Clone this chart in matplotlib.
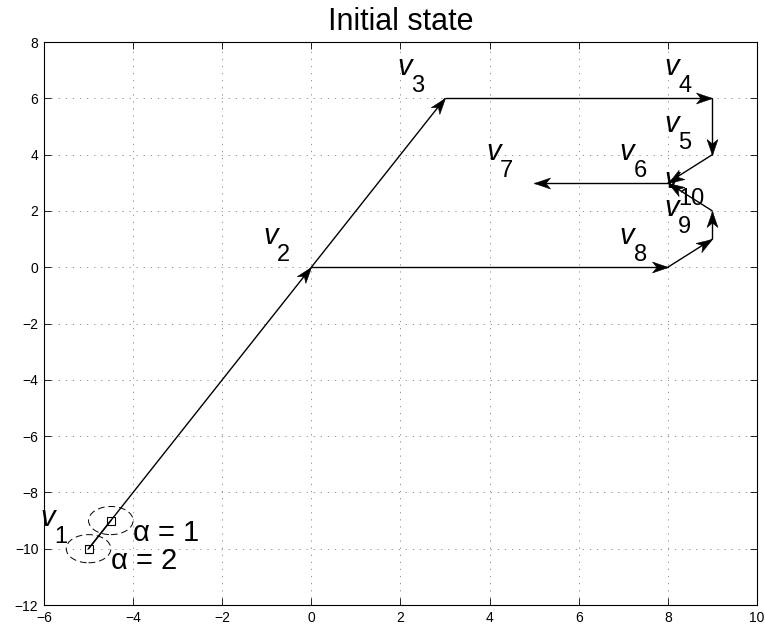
import numpy as np
import matplotlib
matplotlib.use("Agg")
import matplotlib.pyplot as plt
from matplotlib.patches import Ellipse
from matplotlib.markers import MarkerStyle
from matplotlib.path import Path
from matplotlib.transforms import Affine2D

plt.rcParams['font.family'] = ['Liberation Sans', 'DejaVu Sans']

# vertex coordinates
vx = [-5, 0, 3, 9, 9, 8, 5, 8, 9, 9]
vy = [-10, 0, 6, 6, 4, 3, 3, 0, 1, 2]
# directed edges (1-based vertex numbers)
edge_from = [1, 2, 3, 4, 5, 6, 2, 8, 9, 10]
edge_to = [2, 3, 4, 5, 6, 7, 8, 9, 10, 6]
# step-size candidates on the first edge
alpha_vals = [1, 2]
alpha_x = [-4.5, -5.0]
alpha_y = [-9.0, -10.0]
alpha_radius = 0.5

xticks = list(range(-6, 11, 2))
yticks = list(range(-12, 9, 2))

fig = plt.figure(figsize=(7.65, 6.32), dpi=100)
ax = fig.add_axes([0.0575, 0.0427, 0.932, 0.8908])
ax.set_xlim(-6, 10)
ax.set_ylim(-12, 8)
ax.set_xticks(xticks)
ax.set_yticks(yticks)
ax.tick_params(direction='in', length=5, width=0.6, top=True, right=True,
               labelsize=10, pad=4)
for s in ax.spines.values():
    s.set_linewidth(0.8)
ax.grid(True, color='#808080', linewidth=0.6, linestyle=(0, (1.5, 7)))
ax.set_axisbelow(True)
ax.set_title('Initial state', fontsize=22, pad=9)

# concave arrow head with its tip at the origin
head_path = Path([(0, 0), (-1, 0.34), (-0.72, 0), (-1, -0.34), (0, 0)],
                 [Path.MOVETO, Path.LINETO, Path.LINETO, Path.LINETO, Path.CLOSEPOLY])

fig.canvas.draw()
for a, b in zip(edge_from, edge_to):
    x0, y0 = vx[a - 1], vy[a - 1]
    x1, y1 = vx[b - 1], vy[b - 1]
    ax.plot([x0, x1], [y0, y1], color='k', linewidth=1.0, solid_capstyle='butt')
    p0 = ax.transData.transform((x0, y0))
    p1 = ax.transData.transform((x1, y1))
    ang = np.degrees(np.arctan2(p1[1] - p0[1], p1[0] - p0[0]))
    m = MarkerStyle(head_path, transform=Affine2D().rotate_deg(ang))
    ax.plot([x1], [y1], marker=m, markersize=23, color='k',
            markeredgewidth=0.4, linestyle='none')

# segment from v1 to the first step candidate
ax.plot([vx[0], alpha_x[0]], [vy[0], alpha_y[0]], color='k', linewidth=1.0)

for av, ax_, ay_ in zip(alpha_vals, alpha_x, alpha_y):
    ax.plot([ax_], [ay_], marker='s', markersize=6, markerfacecolor='none',
            markeredgecolor='k', markeredgewidth=0.8, linestyle='none')
    ax.add_patch(Ellipse((ax_, ay_), 2 * alpha_radius, 2 * alpha_radius,
                         fill=False, edgecolor='k', linewidth=0.7,
                         linestyle=(0, (7, 4))))
    ax.text(ax_ + alpha_radius, ay_ - 0.45, f'α = {av}', fontsize=21,
            ha='left', va='center')

# vertex labels: italic v with a lowered index
for i, (x, y) in enumerate(zip(vx, vy), start=1):
    ax.annotate('v', xy=(x - 1, y), xytext=(-2.5, 16.5), textcoords='offset points',
                fontsize=21, fontstyle='italic', ha='left', va='baseline')
    ax.annotate(str(i), xy=(x - 1, y), xytext=(7.5, 4.3), textcoords='offset points',
                fontsize=17, ha='left', va='baseline')

fig.savefig('out.png', dpi=100)
